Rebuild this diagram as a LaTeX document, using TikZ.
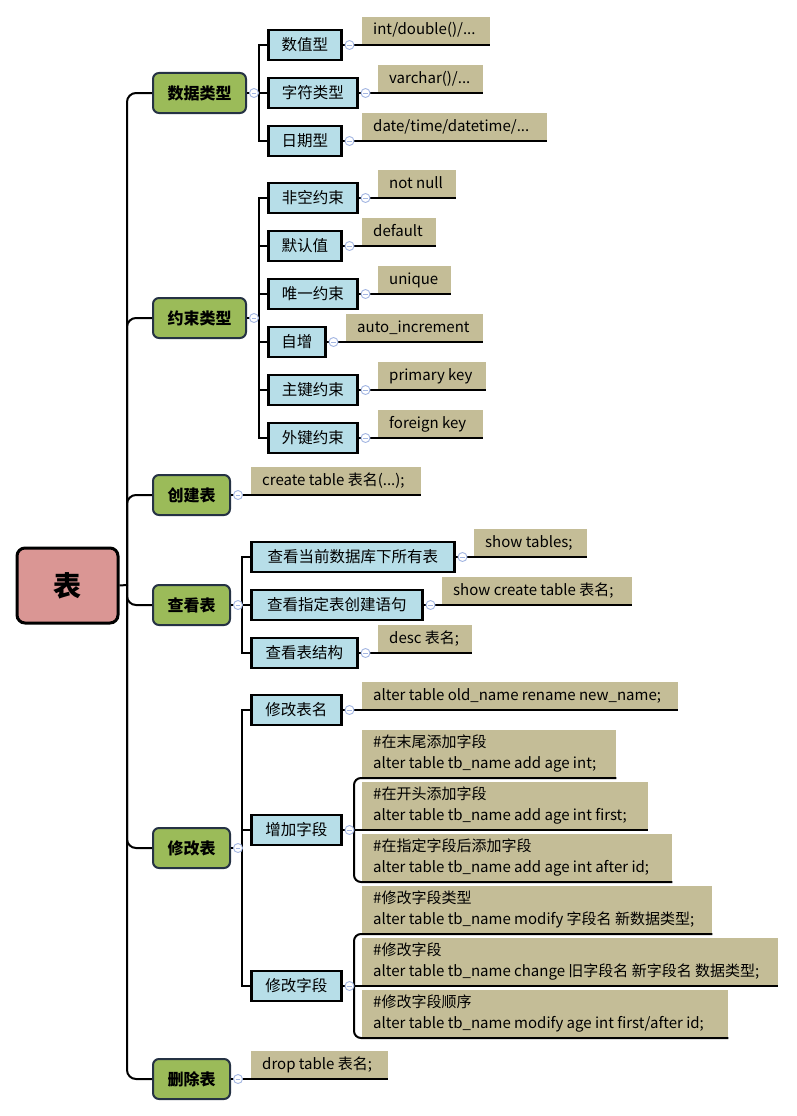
\documentclass[tikz,border=0pt]{standalone}
\usepackage{fontspec}
\setmainfont{Noto Sans CJK SC}
\definecolor{rootred}{HTML}{DA9694}
\definecolor{lgreen}{HTML}{9BBB59}
\definecolor{lblue}{HTML}{B7DEE8}
\definecolor{ltan}{HTML}{C4BD97}
\definecolor{navy}{HTML}{253244}
\definecolor{cblue}{HTML}{A3B6E2}
\tikzset{
  rootbox/.style={draw=black, line width=3pt, fill=rootred, rounded corners=8pt, minimum width=101pt, minimum height=75pt, inner sep=0pt, font=\fontsize{28}{30}\selectfont\bfseries},
  lone/.style={draw=navy, line width=2pt, fill=lgreen, rounded corners=6pt, minimum height=40pt, inner sep=0pt, anchor=west, font=\fontsize{16}{18}\selectfont\bfseries},
  ltwo/.style={draw=black, line width=2.5pt, fill=lblue, minimum height=30pt, inner sep=0pt, anchor=west, font=\fontsize{15.5}{18}\selectfont},
  leaf/.style={fill=ltan, anchor=south west, inner xsep=11pt, inner ysep=0pt, font=\fontsize{15}{21}\selectfont},
  conn/.style={draw=black, line width=2pt},
  cstyle/.style={draw=cblue, fill=white, line width=0.9pt},
  cminus/.style={draw=cblue, line width=0.9pt}
}
\newcommand\colmark[1]{\draw[cstyle] ([xshift=7pt]#1.east) circle (4.5pt); \draw[cminus] ([xshift=4.8pt]#1.east) -- ([xshift=9.2pt]#1.east);}
\newcommand\lf[5]{\node[leaf, minimum height=#4] (#1) at #2 {\makebox[\dimexpr#3-22pt\relax][l]{\begin{tabular}{@{}l@{}}#5\end{tabular}}};}
\begin{document}
\begin{tikzpicture}[x=1pt, y=-1pt]
\useasboundingbox (0,0) rectangle (796,1116);
% root
\node[rootbox] (r) at (67.5,585.5) {表};
% level 1
\node[lone, minimum width=93pt] (a) at (152,93) {数据类型};
\node[lone, minimum width=93pt] (b) at (152,318) {约束类型};
\node[lone, minimum width=77pt] (c) at (152,495) {创建表};
\node[lone, minimum width=77pt] (d) at (152,605) {查看表};
\node[lone, minimum width=77pt] (e) at (152,848) {修改表};
\node[lone, minimum width=77pt] (f) at (152,1079) {删除表};
% level 2
\node[ltwo, minimum width=73pt] (a1) at (267,45) {数值型};
\node[ltwo, minimum width=89pt] (a2) at (267,93) {字符类型};
\node[ltwo, minimum width=73pt] (a3) at (267,141) {日期型};
\node[ltwo, minimum width=89pt] (b1) at (267,198) {非空约束};
\node[ltwo, minimum width=73pt] (b2) at (267,246) {默认值};
\node[ltwo, minimum width=89pt] (b3) at (267,294) {唯一约束};
\node[ltwo, minimum width=57pt] (b4) at (267,342) {自增};
\node[ltwo, minimum width=89pt] (b5) at (267,390) {主键约束};
\node[ltwo, minimum width=89pt] (b6) at (267,438) {外键约束};
\node[ltwo, minimum width=203pt] (d1) at (250,557) {查看当前数据库下所有表};
\node[ltwo, minimum width=171pt] (d2) at (250,605) {查看指定表创建语句};
\node[ltwo, minimum width=106pt] (d3) at (250,653) {查看表结构};
\node[ltwo, minimum width=90pt] (e1) at (250,710) {修改表名};
\node[ltwo, minimum width=90pt] (e2) at (250,830) {增加字段};
\node[ltwo, minimum width=90pt] (e3) at (250,986) {修改字段};
% leaves
\lf{la1}{(362,45)}{128pt}{28pt}{int/double()/...}
\lf{la2}{(378,93)}{105pt}{28pt}{varchar()/...}
\lf{la3}{(362,141)}{185pt}{28pt}{date/time/datetime/...}
\lf{lb1}{(378,198)}{78pt}{28pt}{not null}
\lf{lb2}{(362,246)}{74pt}{28pt}{default}
\lf{lb3}{(378,294)}{73pt}{28pt}{unique}
\lf{lb4}{(346,342)}{137pt}{28pt}{auto\_increment}
\lf{lb5}{(378,390)}{108pt}{28pt}{primary key}
\lf{lb6}{(378,438)}{105pt}{28pt}{foreign key}
\lf{lc1}{(251,495)}{170pt}{28pt}{create table 表名(...);}
\lf{ld1}{(474,557)}{113pt}{28pt}{show tables;}
\lf{ld2}{(442,605)}{190pt}{28pt}{show create table 表名;}
\lf{ld3}{(378,653)}{94pt}{28pt}{desc 表名;}
\lf{le1}{(362,710)}{316pt}{28pt}{alter table old\_name rename new\_name;}
\lf{le21}{(362,778)}{254pt}{48pt}{\#在末尾添加字段\\alter table tb\_name add age int;}
\lf{le22}{(362,830)}{286pt}{48pt}{\#在开头添加字段\\alter table tb\_name add age int first;}
\lf{le23}{(362,882)}{310pt}{48pt}{\#在指定字段后添加字段\\alter table tb\_name add age int after id;}
\lf{le31}{(362,934)}{350pt}{48pt}{\#修改字段类型\\alter table tb\_name modify 字段名 新数据类型;}
\lf{le32}{(362,986)}{416pt}{48pt}{\#修改字段\\alter table tb\_name change 旧字段名 新字段名 数据类型;}
\lf{le33}{(362,1038)}{366pt}{48pt}{\#修改字段顺序\\alter table tb\_name modify age int first/after id;}
\lf{lf1}{(251,1079)}{137pt}{28pt}{drop table 表名;}
% root connectors
\coordinate (rj) at (127,585);
\draw[conn] (r.east) -- (rj);
\foreach \n in {a,b,c,d,e,f} {\draw[conn, rounded corners=9pt] (rj) |- (\n.west);}
% level 1 -> level 2
\coordinate (aj) at (259,93);
\draw[conn] (a.east) -- (aj);
\foreach \n in {a1,a2,a3} {\draw[conn] (aj) |- (\n.west);}
\coordinate (bj) at (259,318);
\draw[conn] (b.east) -- (bj);
\foreach \n in {b1,b2,b3,b4,b5,b6} {\draw[conn] (bj) |- (\n.west);}
\draw[conn] (c.east) -- (lc1.south east);
\coordinate (dj) at (242,605);
\draw[conn] (d.east) -- (dj);
\foreach \n in {d1,d2,d3} {\draw[conn] (dj) |- (\n.west);}
\coordinate (ej) at (242,848);
\draw[conn] (e.east) -- (ej);
\foreach \n in {e1,e2,e3} {\draw[conn] (ej) |- (\n.west);}
\draw[conn] (f.east) -- (lf1.south east);
% level 2 -> leaves
\draw[conn] (a1.east) -- (la1.south east);
\draw[conn] (a2.east) -- (la2.south east);
\draw[conn] (a3.east) -- (la3.south east);
\draw[conn] (b1.east) -- (lb1.south east);
\draw[conn] (b2.east) -- (lb2.south east);
\draw[conn] (b3.east) -- (lb3.south east);
\draw[conn] (b4.east) -- (lb4.south east);
\draw[conn] (b5.east) -- (lb5.south east);
\draw[conn] (b6.east) -- (lb6.south east);
\draw[conn] (d1.east) -- (ld1.south east);
\draw[conn] (d2.east) -- (ld2.south east);
\draw[conn] (d3.east) -- (ld3.south east);
\draw[conn] (e1.east) -- (le1.south east);
\coordinate (e2j) at (354,830);
\draw[conn] (e2.east) -- (le22.south east);
\draw[conn, rounded corners=7pt] (e2j) |- (le21.south east);
\draw[conn, rounded corners=7pt] (e2j) |- (le23.south east);
\coordinate (e3j) at (354,986);
\draw[conn] (e3.east) -- (le32.south east);
\draw[conn, rounded corners=7pt] (e3j) |- (le31.south east);
\draw[conn, rounded corners=7pt] (e3j) |- (le33.south east);
% collapse marks
\foreach \n in {a,b,c,d,e,f,a1,a2,a3,b1,b2,b3,b4,b5,b6,d1,d2,d3,e1,e2,e3} {\colmark{\n}}
\end{tikzpicture}
\end{document}
